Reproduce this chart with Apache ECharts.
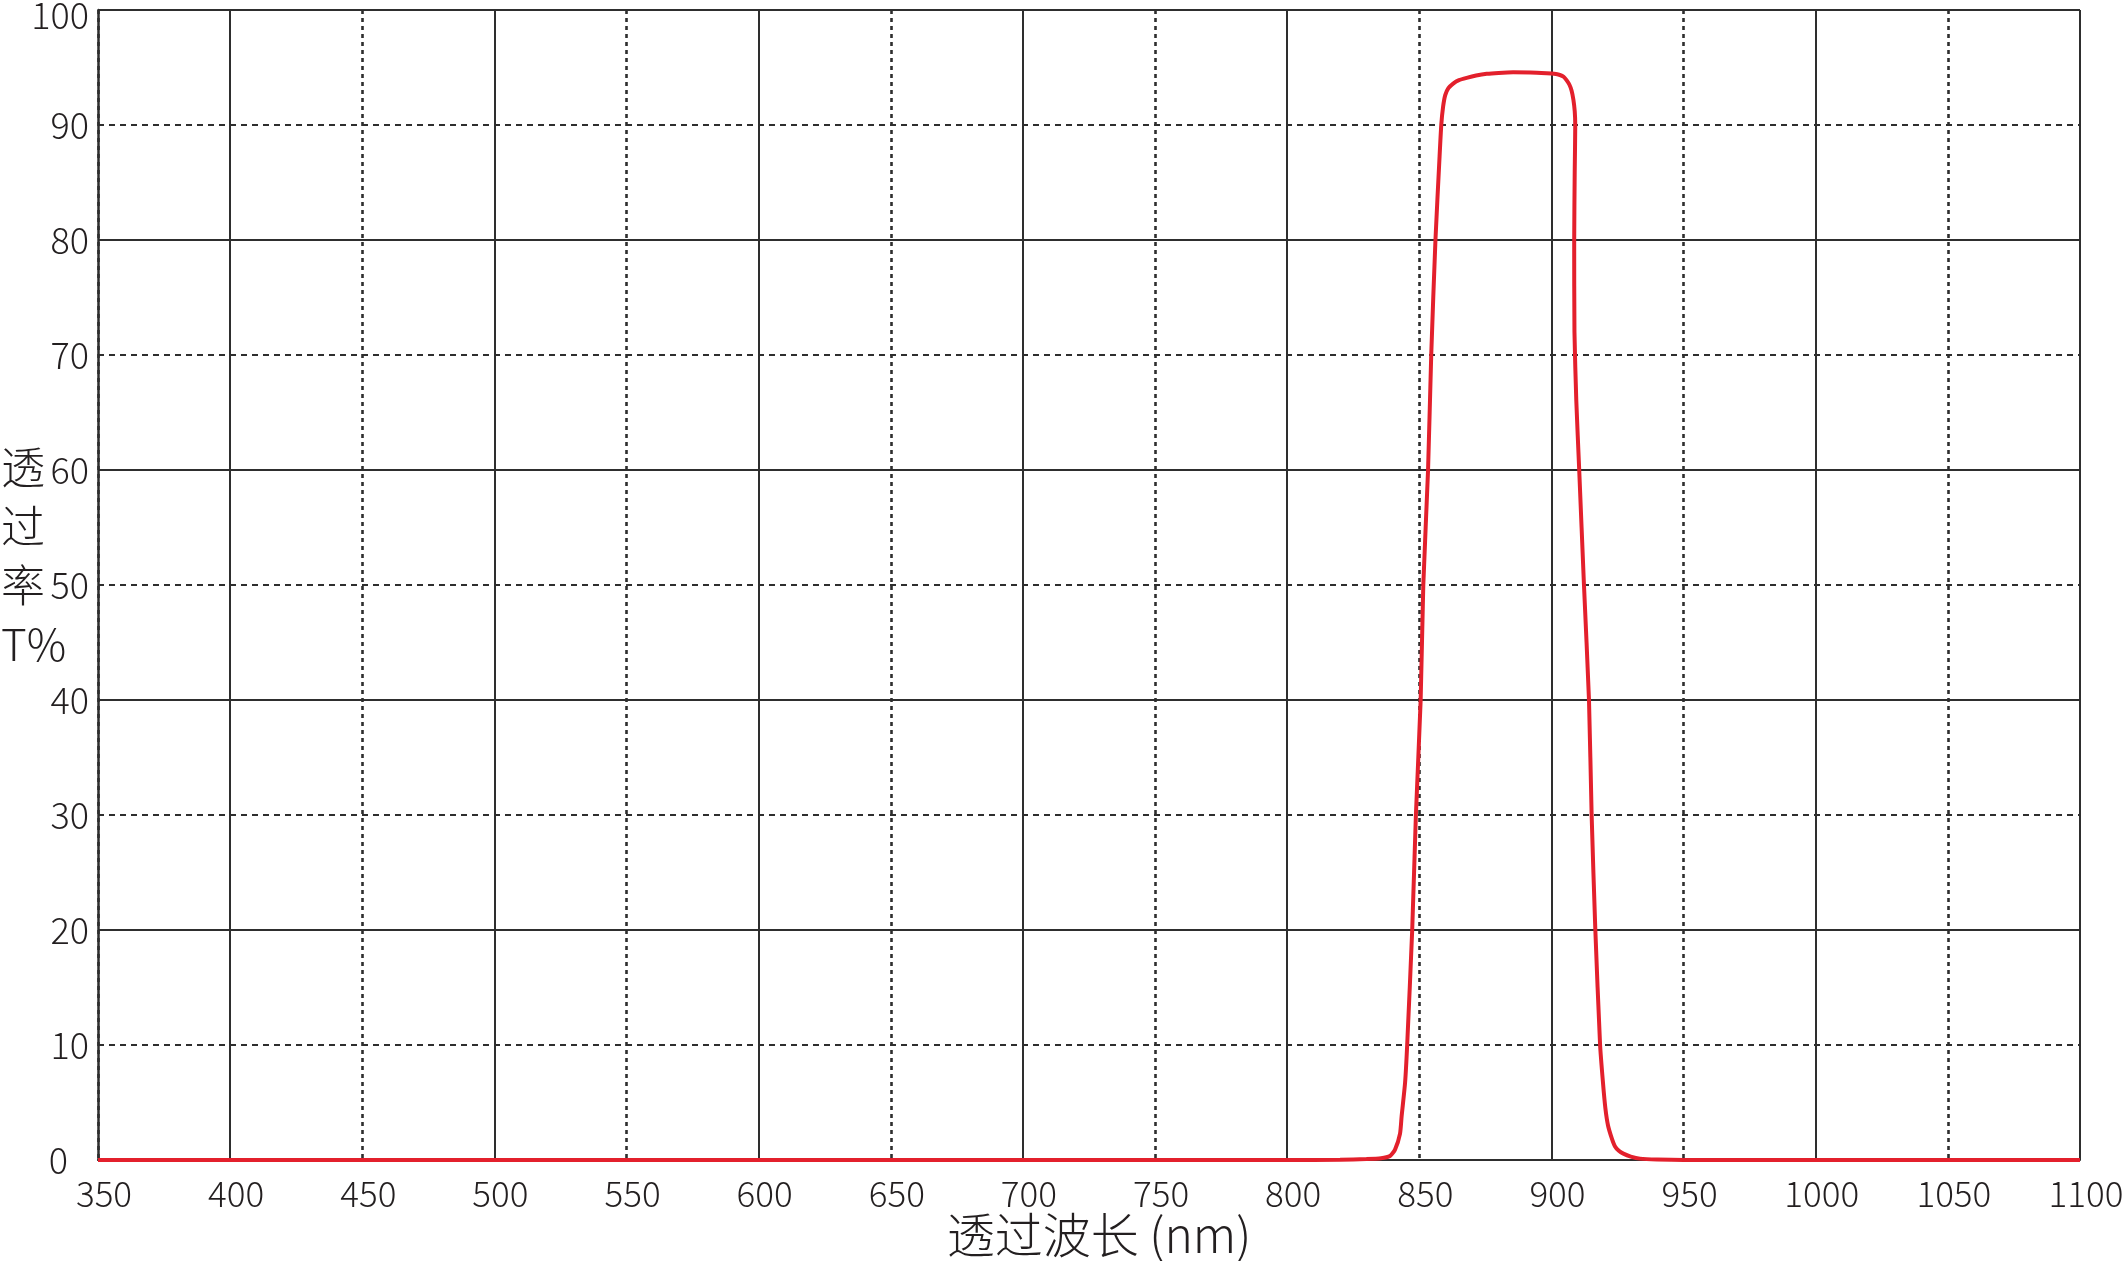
<!DOCTYPE html>
<html>
<head>
<meta charset="utf-8">
<script src="https://cdn.jsdelivr.net/npm/echarts@6/dist/echarts.min.js"></script>
<style>
html,body{margin:0;padding:0;background:#fff;}
#chart{width:2127px;height:1261px;}
</style>
</head>
<body>
<div id="chart"></div>
<script>
// Wavelength (nm) and transmission (%)
const wavelength = [350, 800, 820, 830, 835.5, 838.9, 840.8, 842.7, 843.3, 844.6, 845.4, 847.3, 848.7, 850.5, 851.5, 853.3, 854.5, 856.1, 857.6, 858.3, 859.0, 859.8, 861.0, 862.8, 865.0, 867.9, 871.5, 875.5, 880, 885.5, 892, 898.2, 901, 903.2, 904.6, 905.7, 906.8, 907.6, 908.3, 908.8, 909.0, 908.8, 908.6, 908.7, 909.4, 910.5, 912.3, 914.2, 915.2, 916.6, 918.4, 919.5, 920.4, 921.4, 922.8, 924, 925.5, 927.2, 930, 933.5, 940, 950, 1100];
const transmission = [0, 0, 0.02, 0.08, 0.15, 0.35, 0.9, 2.3, 3.8, 6.7, 10, 20, 30, 40, 50, 60, 70, 80, 87, 90, 91.6, 92.6, 93.2, 93.6, 93.9, 94.1, 94.3, 94.45, 94.53, 94.58, 94.57, 94.5, 94.45, 94.35, 94.2, 93.9, 93.5, 93.0, 92.2, 91.2, 90, 86, 80, 72, 66, 60, 50, 40, 30, 20, 10, 6.7, 4.5, 3, 1.9, 1.2, 0.8, 0.55, 0.3, 0.12, 0.04, 0, 0];

const xMin = 350, xMax = 1100, xStep = 50;
const yMin = 0, yMax = 100, yStep = 10;
const xTitle = '透过波长 (nm)';
const yTitle = '透\n过\n率\nT%';

const FONT = '"Noto Sans CJK SC", "Noto Sans", sans-serif';
const TXT = '#231f20';
const GRIDC = '#2e2e2e';
const CLEAR = 'rgba(0,0,0,0)';

const seriesData = wavelength.map((w, i) => [w, transmission[i]]);

const chart = echarts.init(document.getElementById('chart'), null, {renderer: 'canvas'});
chart.setOption({
  animation: false,
  backgroundColor: '#ffffff',
  grid: {left: 98, right: 47, top: 10, bottom: 101, containLabel: false, outerBoundsMode: 'none'},
  xAxis: [
    {
      type: 'value', min: xMin, max: xMax, interval: xStep,
      axisLine: {show: true, lineStyle: {color: GRIDC, width: 2}},
      axisTick: {show: false},
      axisLabel: {fontFamily: FONT, fontWeight: 300, fontSize: 35, color: TXT, margin: 16, padding: [0, 0, 0, 12],
        formatter: v => String(v)},
      splitLine: {show: true, lineStyle: {color: [CLEAR, GRIDC], width: 2, type: 'solid'}},
      name: xTitle, nameLocation: 'middle', nameGap: 51, nameMoveOverlap: false,
      nameTextStyle: {fontFamily: FONT, fontWeight: 300, fontSize: 48, color: TXT, padding: [0, 0, 0, 20]}
    },
    {
      type: 'value', min: xMin, max: xMax, interval: xStep, position: 'bottom',
      axisLine: {show: false}, axisTick: {show: false}, axisLabel: {show: false},
      splitLine: {show: true, lineStyle: {color: [GRIDC, CLEAR], width: 2.6, type: [4, 4]}}
    }
  ],
  yAxis: [
    {
      type: 'value', min: yMin, max: yMax, interval: yStep,
      axisLine: {show: true, lineStyle: {color: GRIDC, width: 2.5}},
      axisTick: {show: false},
      axisLabel: {
        fontFamily: FONT, fontWeight: 300, fontSize: 36, color: TXT, margin: 9,
        formatter: v => v === 0 ? '{z|0}' : (v === 100 ? '{h|100}' : String(v)),
        rich: {
          z: {fontFamily: FONT, fontWeight: 300, fontSize: 36, color: TXT, padding: [0, 21, 0, 0]},
          h: {fontFamily: FONT, fontWeight: 300, fontSize: 36, color: TXT, padding: [10, 0, 0, 0]}
        }
      },
      splitLine: {show: true, lineStyle: {color: [GRIDC, CLEAR], width: 2, type: 'solid'}}
    },
    {
      type: 'value', min: yMin, max: yMax, interval: yStep, position: 'left',
      axisLine: {show: false}, axisTick: {show: false}, axisLabel: {show: false},
      splitLine: {show: true, lineStyle: {color: [CLEAR, GRIDC], width: 2, type: [6, 5]}}
    }
  ],
  graphic: [
    {
      type: 'text', left: 1, top: 438, z: 10,
      style: {text: yTitle, font: '300 44px ' + FONT, fill: TXT, lineHeight: 59, textAlign: 'left'}
    }
  ],
  series: [
    {
      type: 'line', xAxisIndex: 0, yAxisIndex: 0,
      data: seriesData, showSymbol: false, smooth: 0.2,
      lineStyle: {color: '#e3202c', width: 4},
      z: 5
    }
  ]
});
</script>
</body>
</html>
